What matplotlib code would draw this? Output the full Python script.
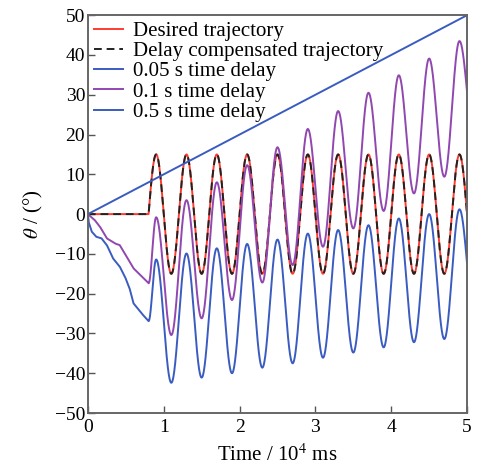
import numpy as np
import matplotlib
matplotlib.use("Agg")
import matplotlib.pyplot as plt

plt.rcParams["font.family"] = ["Liberation Serif", "DejaVu Serif"]
plt.rcParams["mathtext.fontset"] = "stix"

RED = "#ff3b30"
BLACK = "#222222"
BLUE = "#3a5cc0"
PURPLE = "#9147b0"

# extremes of the oscillation (time in 10^4 ms, angle in degrees)
# 0.7 and 5.1 lie outside the visible part and only shape the curve ends
EXT_T = [0.7, 0.9, 1.1, 1.3, 1.5, 1.7, 1.9, 2.1, 2.3, 2.5, 2.7, 2.9,
         3.1, 3.3, 3.5, 3.7, 3.9, 4.1, 4.3, 4.5, 4.7, 4.9, 5.1]
DESIRED_EXT = [-15, 15, -15, 15, -15, 15, -15, 15, -15, 15, -15, 15,
               -15, 15, -15, 15, -15, 15, -15, 15, -15, 15, -15]
DESIRED_START = 0.8

# 0.1 s delay
PURPLE_EARLY_T = [0.0, 0.09, 0.16, 0.25, 0.36, 0.42, 0.51, 0.60, 0.69, 0.8]
PURPLE_EARLY_V = [0.0, -1.5, -3.2, -6.1, -7.4, -7.8, -10.7, -13.6, -15.3, -17.4]
PURPLE_EXT_T = EXT_T[1:]
PURPLE_EXT = [-0.8, -30.4, 3.5, -26.2, 8.0, -21.6, 12.3, -17.2, 16.8, -12.8,
              21.4, -8.2, 25.9, -3.6, 30.5, 0.8, 34.9, 5.2, 39.1, 9.4, 43.5, 18.0]

# 0.5 s delay
BLUE_EARLY_T = [0.0, 0.01, 0.03, 0.05, 0.11, 0.18, 0.25, 0.33, 0.42, 0.49,
                0.55, 0.60, 0.71, 0.8]
BLUE_EARLY_V = [0.0, -2.0, -3.2, -4.4, -5.7, -6.1, -7.8, -11.1, -13.2, -15.8,
                -18.7, -22.4, -25.0, -26.9]
BLUE_EXT_T = EXT_T[1:]
BLUE_EXT = [-11.4, -42.4, -9.9, -41.1, -8.6, -40.0, -7.5, -38.6, -6.4, -37.5,
            -4.9, -36.1, -4.0, -34.8, -2.8, -33.5, -1.1, -32.2, 0.0, -31.4, 1.2, -26.0]

# 0.05 s delay (straight ramp)
RAMP_T = [0.0, 5.0]
RAMP_V = [0.0, 50.0]


def eased(tk, vk, t):
    # cosine easing between successive extremes
    tk = np.asarray(tk, float)
    vk = np.asarray(vk, float)
    idx = np.clip(np.searchsorted(tk, t, side="right") - 1, 0, len(tk) - 2)
    s = np.clip((t - tk[idx]) / (tk[idx + 1] - tk[idx]), 0, 1)
    return vk[idx] + (vk[idx + 1] - vk[idx]) * (1 - np.cos(np.pi * s)) / 2


t = np.linspace(0, 5, 3000)

desired = np.where(t < DESIRED_START, 0.0, eased(EXT_T, DESIRED_EXT, t))

purple = np.where(t <= PURPLE_EARLY_T[-1],
                  np.interp(t, PURPLE_EARLY_T, PURPLE_EARLY_V),
                  eased([PURPLE_EARLY_T[-1]] + PURPLE_EXT_T,
                        [PURPLE_EARLY_V[-1]] + PURPLE_EXT, t))

blue = np.where(t <= BLUE_EARLY_T[-1],
                np.interp(t, BLUE_EARLY_T, BLUE_EARLY_V),
                eased([BLUE_EARLY_T[-1]] + BLUE_EXT_T,
                      [BLUE_EARLY_V[-1]] + BLUE_EXT, t))

fig = plt.figure(figsize=(4.83, 4.68), dpi=100)
ax = fig.add_axes([0.182, 0.1175, 0.785, 0.85])

ax.plot(t, desired, color=RED, lw=1.4, label="Desired trajectory")
ax.plot(t, desired, color=BLACK, lw=1.4, dashes=(4, 2.5),
        label="Delay compensated trajectory")
ax.plot(RAMP_T, RAMP_V, color=BLUE, lw=1.4, label="0.05 s time delay")
ax.plot(t, purple, color=PURPLE, lw=1.4, label="0.1 s time delay")
ax.plot(t, blue, color=BLUE, lw=1.4, label="0.5 s time delay")

ax.set_xlim(0, 5)
ax.set_ylim(-50, 50)
ax.set_xticks(range(0, 6))
ax.set_yticks(range(-50, 51, 10))
ax.tick_params(direction="in", length=5, width=1, labelsize=14,
               color="#555555")
ax.tick_params(axis="x", pad=4)
ax.tick_params(axis="y", pad=2)
for sp in ax.spines.values():
    sp.set_color("#666666")
    sp.set_linewidth(1.4)

ax.set_xlabel("Time / 10$^4$ ms", fontsize=15, labelpad=6)
ax.set_ylabel(r"$\theta$ / (°)", fontsize=15, labelpad=7)

ax.legend(loc="upper left", frameon=False, fontsize=15, handlelength=1.4,
          handletextpad=0.45, labelspacing=0.03, borderaxespad=0.2,
          borderpad=0.1)

fig.savefig("out.png", dpi=100)
